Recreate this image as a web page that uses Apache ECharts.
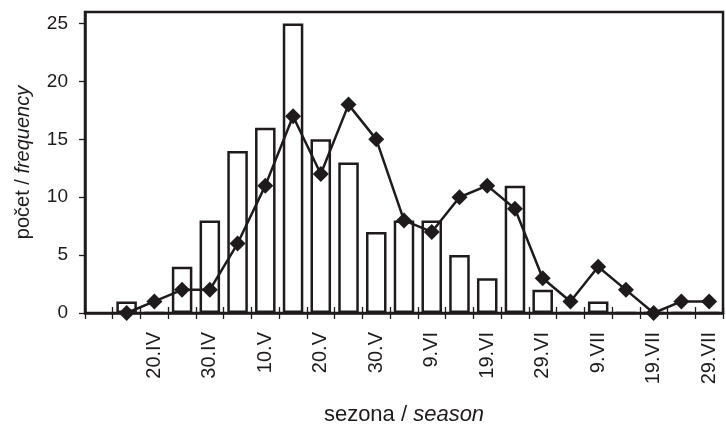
<!DOCTYPE html>
<html>
<head>
<meta charset="utf-8">
<script src="https://cdn.jsdelivr.net/npm/echarts@6/dist/echarts.min.js"></script>
<style>
html,body{margin:0;padding:0;background:#fff;}
#chart{width:726px;height:425px;}
</style>
</head>
<body>
<div id="chart"></div>
<script>
// 5-day periods (season)
const categories = ['10.IV','15.IV','20.IV','25.IV','30.IV','5.V','10.V','15.V','20.V','25.V','30.V','4.VI','9.VI','14.VI','19.VI','24.VI','29.VI','4.VII','9.VII','14.VII','19.VII','24.VII','29.VII'];
// bars (frequency)
const barValues = [null, 1, 0, 4, 8, 14, 16, 25, 15, 13, 7, 8, 8, 5, 3, 11, 2, 0, 1, 0, 0, 0, 0];
// line with diamond markers
const lineValues = [null, 0, 1, 2, 2, 6, 11, 17, 12, 18, 15, 8, 7, 10, 11, 9, 3, 1, 4, 2, 0, 1, 1];
const yTicks = [0, 5, 10, 15, 20, 25];

const ink = '#1f1b1c';
const font = 'Liberation Sans, Arial, sans-serif';

const chart = echarts.init(document.getElementById('chart'), null, {renderer: 'canvas'});
chart.setOption({
  animation: false,
  backgroundColor: '#fff',
  grid: {left: 85, right: 3, top: 12, bottom: 112, containLabel: false, outerBoundsMode: 'none',
         show: true, borderColor: ink, borderWidth: 2.5, backgroundColor: 'transparent'},
  xAxis: [{
    type: 'category',
    data: categories,
    position: 'bottom',
    name: '{a|sezona / }{b|season}',
    nameLocation: 'middle',
    nameGap: 91,
    nameTextStyle: {
      rich: {
        a: {fontFamily: font, fontSize: 22, color: ink},
        b: {fontFamily: font, fontSize: 22, color: ink, fontStyle: 'italic'}
      }
    },
    axisLine: {show: true, lineStyle: {color: ink, width: 2.5}},
    axisTick: {show: true, interval: 0, length: 6, lineStyle: {color: ink, width: 1.3}},
    axisLabel: {
      interval: function (i) { return i > 0 && i % 2 === 0; },
      rotate: 90,
      margin: 19,
      fontFamily: font,
      fontSize: 20,
      color: ink
    },
    splitLine: {show: false}
  }, {
    type: 'category',
    data: categories,
    position: 'bottom',
    axisLine: {show: false},
    axisTick: {show: true, inside: true, interval: 0, length: 6, lineStyle: {color: ink, width: 1.3}},
    axisLabel: {show: false},
    splitLine: {show: false}
  }],
  yAxis: {
    type: 'value',
    min: 0,
    max: 26,
    interval: 5,
    name: '{a|počet / }{b|frequency}',
    nameLocation: 'middle',
    nameGap: 52,
    nameRotate: 90,
    nameTextStyle: {
      rich: {
        a: {fontFamily: font, fontSize: 20, color: ink},
        b: {fontFamily: font, fontSize: 20, color: ink, fontStyle: 'italic'}
      }
    },
    axisLine: {show: true, lineStyle: {color: ink, width: 2.5}},
    axisTick: {show: true, length: 6, customValues: yTicks, lineStyle: {color: ink, width: 1.3}},
    axisLabel: {margin: 17, fontFamily: font, fontSize: 19, color: ink, customValues: yTicks},
    splitLine: {show: false}
  },
  series: [{
    type: 'bar',
    data: barValues,
    xAxisIndex: 0,
    barCategoryGap: '26%',
    itemStyle: {color: '#fff', borderColor: ink, borderWidth: 2.5},
    z: 2
  }, {
    type: 'line',
    data: lineValues,
    xAxisIndex: 0,
    symbol: 'diamond',
    symbolSize: 16,
    lineStyle: {color: ink, width: 2.5},
    itemStyle: {color: ink, borderColor: ink, borderWidth: 0},
    z: 3
  }]
});
</script>
</body>
</html>
